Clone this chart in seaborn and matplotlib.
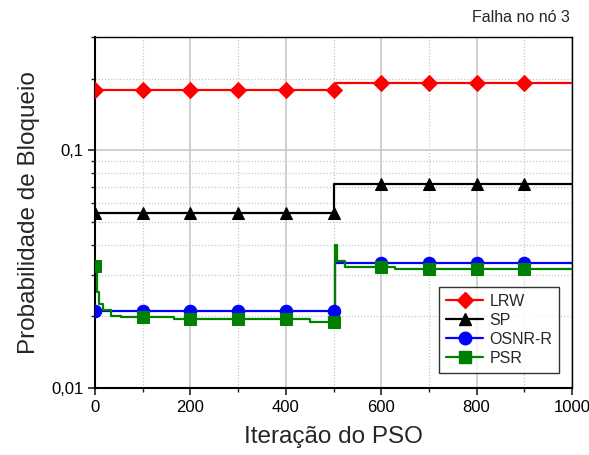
import numpy as np
import pandas as pd
import matplotlib
matplotlib.use("Agg")
import matplotlib.pyplot as plt
import seaborn as sns
from matplotlib.ticker import FuncFormatter, LogLocator, MultipleLocator, NullFormatter
from matplotlib.lines import Line2D

# ---- data ----
series_names = ["LRW", "SP", "OSNR-R", "PSR"]

lrw_x = [0, 505, 1000]
lrw_y = [0.180, 0.193, 0.193]
sp_x = [0, 502, 1000]
sp_y = [0.0543, 0.072, 0.072]
osnr_x = [0, 503, 1000]
osnr_y = [0.0211, 0.0335, 0.0335]
psr_x = [0, 4, 8, 17, 34, 55, 166, 451, 503, 507, 524, 629, 1000]
psr_y = [0.0326, 0.0253, 0.0225, 0.0213, 0.0201, 0.0199, 0.0195, 0.0189,
         0.0399, 0.0342, 0.0323, 0.0316, 0.0316]

marker_iters = [0, 100, 200, 300, 400, 500, 600, 700, 800, 900]
lrw_m = [0.180, 0.180, 0.180, 0.180, 0.180, 0.180, 0.193, 0.193, 0.193, 0.193]
sp_m = [0.0543, 0.0543, 0.0543, 0.0543, 0.0543, 0.0543, 0.072, 0.072, 0.072, 0.072]
osnr_m = [0.0211, 0.0211, 0.0211, 0.0211, 0.0211, 0.0211, 0.0335, 0.0335, 0.0335, 0.0335]
psr_m = [0.0326, 0.0199, 0.0195, 0.0195, 0.0195, 0.0189, 0.0323, 0.0316, 0.0316, 0.0316]

x_ticks = [0, 200, 400, 600, 800, 1000]
title_text = "Falha no nó 3"
xlabel = "Iteração do PSO"
ylabel = "Probabilidade de Bloqueio"

sns.set_theme(style="white")
plt.rcParams["font.family"] = ["Liberation Sans", "DejaVu Sans"]

fig = plt.figure(figsize=(5.89, 4.55), dpi=100)
ax = fig.add_axes([95/589, 1-388/455, (572-95)/589, (388-37)/455])

styles = [
    ("LRW", lrw_x, lrw_y, lrw_m, "#ff0000", "D", 8),
    ("SP", sp_x, sp_y, sp_m, "#000000", "^", 9),
    ("OSNR-R", osnr_x, osnr_y, osnr_m, "#0000ff", "o", 9),
    ("PSR", psr_x, psr_y, psr_m, "#008000", "s", 8),
]

handles = []
for name, xs, ys, ms, col, mk, msz in styles:
    sns.lineplot(x=xs, y=ys, ax=ax, color=col, lw=1.6, drawstyle="steps-post",
                 estimator=None, sort=False, zorder=3)
    sns.lineplot(x=marker_iters, y=ms, ax=ax, color=col, marker=mk, markersize=msz,
                 markeredgecolor=col, linestyle="", estimator=None, sort=False, zorder=4)
    handles.append(Line2D([], [], color=col, lw=1.6, marker=mk, markersize=msz,
                          markeredgecolor=col, label=name))

ax.set_yscale("log")
ax.set_xlim(0, 1000)
ax.set_ylim(0.01, 0.3)

ax.xaxis.set_major_locator(MultipleLocator(200))
ax.xaxis.set_minor_locator(MultipleLocator(100))
ax.set_xticks(x_ticks)
ax.yaxis.set_major_locator(LogLocator(base=10, numticks=10))
ax.yaxis.set_minor_locator(LogLocator(base=10, subs=np.arange(2, 10), numticks=20))
ax.yaxis.set_major_formatter(FuncFormatter(lambda v, p: ("%g" % v).replace(".", ",")))
ax.yaxis.set_minor_formatter(NullFormatter())

ax.grid(which="major", color="#c8c8c8", lw=1.2, ls="-", zorder=0)
ax.grid(which="minor", color="#c8c8c8", lw=0.9, ls=(0, (1, 1.5)), zorder=0)
ax.set_axisbelow(True)

ax.tick_params(which="major", direction="out", length=5, width=1.2, colors="#222222",
               labelsize=12, left=True, bottom=True, labelcolor="black")
ax.tick_params(which="minor", direction="out", length=3, width=1.0, colors="#222222",
               left=True, bottom=True)
for s in ax.spines.values():
    s.set_color("black")
    s.set_linewidth(1.0)
ax.spines["left"].set_linewidth(1.5)
ax.spines["bottom"].set_linewidth(1.5)

ax.set_xlabel(xlabel, fontsize=17.5, labelpad=8)
ax.set_ylabel(ylabel, fontsize=17.5, labelpad=8)

leg = ax.legend(handles=handles, loc="lower right", bbox_to_anchor=(0.9735, 0.043),
                borderaxespad=0, fontsize=11.5, frameon=True, fancybox=False,
                edgecolor="black", handlelength=2.3, labelspacing=0.25,
                borderpad=0.45, handletextpad=0.4)
leg.get_frame().set_linewidth(1.0)

fig.text(570/589, 1-18/455, title_text, ha="right", va="center", fontsize=11.5)

fig.savefig("out.png", dpi=100)
